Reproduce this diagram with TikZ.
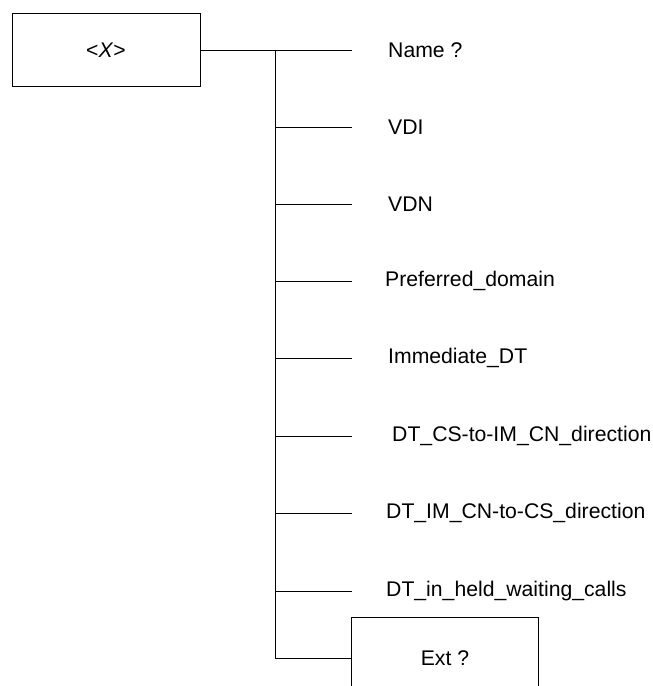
\documentclass[tikz,border=0pt]{standalone}
\usepackage{fontspec}
\setmainfont{Liberation Sans}
\usetikzlibrary{positioning}
\tikzset{%
  tbox/.style   = { draw = black, line width = 1pt, inner sep = 0pt, align = center,
                    font = \fontsize{21.2}{25}\selectfont },
  leaf/.style   = { inner sep = 0pt, anchor = west, node distance = 34pt,
                    font = \fontsize{21.2}{25}\selectfont },
  branch/.style = { draw = black, line width = 1pt }
}
\begin{document}
\begin{tikzpicture}[x=1pt,y=-1pt]
\useasboundingbox (0,0) rectangle (653,686);
\node(X) [tbox, minimum width = 188pt, minimum height = 73pt] at (106,50) {<\textit{X}>};

% trunk and branch ends
\coordinate (top) at (275,50);
\coordinate (bot) at (275,658);
\coordinate (e1) at (352,50);
\coordinate (t2) at (275,127);   \coordinate (e2) at (352,127);
\coordinate (t3) at (275,204);   \coordinate (e3) at (352,204);
\coordinate (t4) at (275,281);   \coordinate (e4) at (352,281);
\coordinate (t5) at (275,358);   \coordinate (e5) at (352,358);
\coordinate (t6) at (275,436);   \coordinate (e6) at (352,436);
\coordinate (t7) at (275,513);   \coordinate (e7) at (352,513);
\coordinate (t8) at (275,591);   \coordinate (e8) at (352,591);

\node(name)  [leaf, right = 36pt of e1] {Name ?};
\node(vdi)   [leaf, right = 36pt of e2] {VDI};
\node(vdn)   [leaf, right = 36pt of e3] {VDN};
\node(pref)  [leaf, right = 33pt of e4] {Preferred\_domain};
\node(imm)   [leaf, right = 36pt of e5] {Immediate\_DT};
\node(cstoim)[leaf, right = 40pt of e6] {DT\_CS-to-IM\_CN\_direction};
\node(imtocs)[leaf, right = 34pt of e7] {DT\_IM\_CN-to-CS\_direction};
\node(held)  [leaf, right = 34pt of e8] {DT\_in\_held\_waiting\_calls};
\node(ext) [tbox, minimum width = 187pt, minimum height = 82pt, anchor = west] at (351,658) {Ext ?};

\draw[branch] (X.east) -- (e1);
\draw[branch] (top) -- (bot) -- (ext.west);
\draw[branch] (t2) -- (e2);
\draw[branch] (t3) -- (e3);
\draw[branch] (t4) -- (e4);
\draw[branch] (t5) -- (e5);
\draw[branch] (t6) -- (e6);
\draw[branch] (t7) -- (e7);
\draw[branch] (t8) -- (e8);
\end{tikzpicture}
\end{document}
